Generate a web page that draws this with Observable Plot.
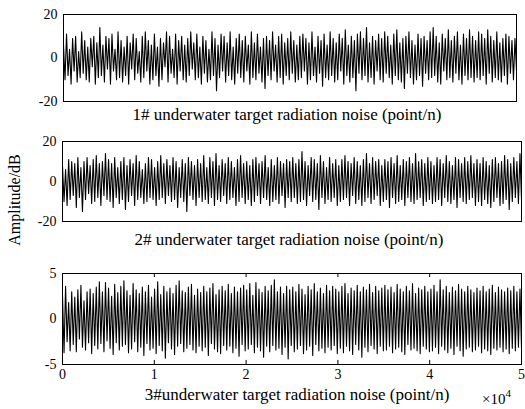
<!DOCTYPE html>
<html>
<head>
<meta charset="utf-8">
<script src="https://cdn.jsdelivr.net/npm/d3@7"></script>
<script src="https://cdn.jsdelivr.net/npm/@observablehq/plot@0.6"></script>
<style>
  html, body { margin: 0; padding: 0; background: #fff; }
  #wrap { position: relative; width: 525px; height: 409px; overflow: hidden; background: #fff;
          font-family: "Liberation Serif", "Times New Roman", serif; color: #000; }
  .panel { position: absolute; left: 0; }
  .panel svg text { font-family: "Liberation Serif", "Times New Roman", serif; }
  #ylab { position: absolute; left: 15px; top: 200px; transform: translate(-50%, -50%) rotate(-90deg);
          font-size: 16px; white-space: nowrap; }
  #exp { position: absolute; left: 482px; top: 392px; font-size: 15px; line-height: 15px; white-space: nowrap; }
  #exp .e { position: relative; top: -7px; font-size: 11px; }
</style>
</head>
<body>
<div id="wrap">
  <div id="p1" class="panel" style="top:0px"></div>
  <div id="p2" class="panel" style="top:127px"></div>
  <div id="p3" class="panel" style="top:255px"></div>
  <div id="ylab">Amplitude/dB</div>
  <div id="exp">×10<span class="e">4</span></div>
</div>
<script>
// Titles
const titles = [
  "1# underwater target radiation noise (point/n)",
  "2# underwater target radiation noise (point/n)",
  "3#underwater target radiation noise (point/n)"
];
// Axis ticks
const yTicks12 = [-20, 0, 20];
const yTicks3 = [-5, 0, 5];
const xTicks = [0, 10000, 20000, 30000, 40000, 50000];
const xTickLabels = ["0", "1", "2", "3", "4", "5"];
const xMax = 50000;

// Signal 1 (downsampled)
const s1 = [
  6,-10,11,-8,4,-12,9,-6,10,-11,3,-9,12,-7,8,-10,5,-11,9,-4,10,-12,7,-9,14,-8,6,-11,10,-5,
  9,-12,11,-6,4,-10,12,-9,8,-11,5,-8,10,-12,7,-5,11,-10,9,-7,3,-11,10,-9,12,-6,8,-12,6,-10,
  11,-8,5,-13,9,-10,7,-4,12,-11,10,-7,4,-9,11,-12,8,-6,10,-10,6,-11,9,-8,12,-5,7,-10,11,-9,
  5,-12,10,-7,8,-11,4,-10,12,-8,9,-15,6,-9,11,-6,10,-11,7,-8,12,-10,5,-12,9,-7,11,-9,8,-11,
  10,-6,6,-12,12,-9,7,-10,11,-7,5,-11,9,-14,10,-8,8,-10,12,-6,6,-11,10,-9,11,-12,7,-8,9,-10,
  12,-7,8,-11,6,-10,10,-9,11,-6,9,-12,7,-10,12,-8,5,-11,10,-7,8,-13,11,-9,6,-10,12,-8,9,-11,
  7,-10,11,-6,9,-12,13,-8,6,-11,10,-9,8,-15,11,-7,12,-10,9,-8,14,-11,7,-9,10,-12,8,-6,11,-10,
  9,-11,12,-7,10,-9,6,-12,11,-8,13,-10,7,-11,9,-14,10,-7,12,-9,8,-12,6,-10,11,-8,9,-13,10,-7,
  8,-10,12,-9,14,-8,10,-11,7,-12,11,-6,9,-10,13,-9,8,-11,10,-7,12,-10,6,-12,11,-8,9,-10,13,-9,
  10,-11,8,-9,12,-10,11,-8,9,-12,13,-7,10,-11,8,-9,12,-10,7,-11,9,-8,11,-12,10,-7,8,-10,9,-6
];
// Signal 2
const s2 = [
  8,-10,6,-12,11,-9,10,-7,9,-13,12,-8,7,-15,10,-9,12,-6,8,-11,11,-10,13,-8,9,-12,10,-7,14,-9,
  11,-10,9,-13,12,-8,7,-11,10,-9,12,-14,8,-10,11,-7,9,-12,13,-9,10,-8,6,-11,9,-10,12,-8,11,-9,
  7,-12,10,-9,13,-8,9,-11,11,-7,8,-10,12,-9,10,-13,7,-8,11,-10,9,-15,12,-7,10,-9,8,-12,11,-8,
  9,-10,13,-9,7,-11,12,-8,10,-12,14,-9,8,-10,11,-7,9,-11,12,-9,10,-8,7,-12,11,-10,13,-8,9,-11,
  10,-9,8,-12,11,-10,12,-7,9,-11,10,-8,13,-9,7,-12,11,-10,8,-9,12,-11,10,-7,9,-13,11,-8,10,-10,
  12,-8,9,-11,11,-10,15,-9,10,-12,8,-7,12,-10,11,-9,9,-14,13,-8,10,-11,7,-9,12,-10,9,-8,11,-12,
  8,-10,11,-9,13,-8,10,-12,9,-7,12,-11,10,-9,8,-12,11,-10,14,-8,9,-11,12,-9,10,-7,11,-12,8,-10,
  11,-9,10,-13,12,-8,9,-11,13,-10,8,-9,11,-12,10,-8,12,-10,9,-11,14,-9,10,-8,11,-12,9,-10,12,-9,
  10,-11,8,-10,12,-9,11,-12,9,-8,13,-10,10,-11,8,-9,12,-13,11,-8,9,-10,12,-11,10,-9,13,-8,9,-12,
  11,-10,9,-12,12,-9,10,-11,8,-13,11,-10,12,-8,9,-12,10,-11,13,-9,11,-14,9,-10,12,-8,10,-11,14,-9
];
// Signal 3
const s3 = [
  2.6,-3.7,3.6,-2.5,1.8,-3.5,3.0,-2.8,2.4,-3.6,3.2,-2.2,3.7,-3.1,2.0,-3.4,3.0,-2.6,3.3,-3.8,2.8,-2.9,3.5,-3.3,4.1,-2.7,3.0,-3.6,4.0,-2.4,
  3.4,-3.2,2.5,-3.9,3.8,-2.6,2.9,-3.4,3.6,-3.0,4.2,-2.8,3.1,-3.7,2.6,-3.3,3.9,-2.5,3.2,-3.6,2.8,-3.1,3.5,-4.0,3.0,-2.7,3.7,-3.4,2.4,-3.2,
  3.3,-3.8,4.1,-2.9,2.7,-3.5,3.6,-4.3,3.0,-2.6,3.4,-3.3,2.8,-3.9,3.7,-3.0,4.2,-2.7,3.1,-3.6,2.9,-3.2,3.5,-2.8,3.8,-3.4,2.6,-3.7,3.3,-3.0,
  2.9,-3.5,3.6,-3.1,3.0,-4.0,3.4,-2.7,3.9,-3.3,2.7,-3.6,3.2,-3.8,3.6,-2.9,3.1,-3.4,3.8,-3.0,2.8,-3.7,3.5,-3.2,3.0,-4.1,3.4,-2.8,3.7,-3.5,
  3.2,-3.3,3.9,-2.8,2.6,-3.7,4.0,-3.1,3.3,-3.5,2.9,-4.2,3.6,-3.0,3.1,-3.6,3.7,-2.9,4.3,-3.4,3.0,-3.2,3.5,-3.9,2.8,-3.1,3.6,-4.4,3.2,-2.9,
  3.5,-3.6,3.0,-3.3,3.8,-2.9,3.3,-3.8,2.7,-3.4,3.6,-3.0,3.2,-4.0,3.9,-2.8,3.0,-3.5,3.4,-3.2,2.8,-3.7,3.7,-3.1,3.1,-3.4,3.6,-2.9,3.3,-3.8,
  3.0,-3.2,3.6,-3.7,3.9,-3.0,2.8,-3.5,3.4,-3.9,3.1,-2.8,3.7,-3.4,3.0,-4.2,3.5,-3.1,3.2,-3.6,3.8,-2.9,2.9,-3.3,3.6,-3.8,3.1,-3.0,3.4,-3.5,
  3.7,-3.4,3.2,-3.0,3.5,-3.7,2.9,-3.3,3.8,-3.1,3.3,-3.6,3.0,-3.9,3.6,-2.8,3.1,-3.4,3.9,-3.2,2.8,-3.5,3.4,-3.8,3.2,-3.0,3.6,-3.3,3.0,-3.6,
  3.3,-3.5,3.7,-3.1,3.0,-3.8,4.3,-3.0,3.2,-3.4,3.6,-3.7,2.9,-3.2,3.5,-3.9,3.1,-3.0,3.8,-3.5,3.3,-4.1,3.0,-3.3,3.6,-3.1,3.2,-3.6,2.9,-3.4,
  3.4,-3.0,3.1,-3.7,3.6,-3.3,3.0,-3.5,3.3,-3.9,3.7,-3.2,2.9,-3.4,3.5,-3.1,3.2,-3.6,3.0,-3.3,3.4,-3.8,3.1,-3.2,3.6,-3.5,3.0,-3.1,3.3,-3.2
];

const FONT = '"Liberation Serif", "Times New Roman", serif';

function panel(el, o) {
  const data = o.values.map((v, i) => ({ x: i * xMax / (o.values.length - 1), y: v }));
  const [y0, y1] = o.yDomain;
  const tl = (y1 - y0) * o.tickFrac;
  const marks = [
    Plot.line(data, { x: "x", y: "y", stroke: "#000", strokeWidth: 1.1 }),
    Plot.axisY(o.yTicks, { tickSize: 0, tickPadding: 6, label: null, fontSize: 14, fontFamily: FONT,
      tickFormat: (d) => String(d) }),
    Plot.text([o.title], { frameAnchor: "bottom", dy: o.titleDy, dx: o.titleDx, fontSize: 17, fontFamily: FONT, fill: "#000" })
  ];
  if (o.showX) {
    const inner = xTicks.slice(1, -1);
    marks.push(
      Plot.ruleX(inner, { y1: y0, y2: y0 + tl, stroke: "#000" }),
      Plot.ruleX(inner, { y1: y1, y2: y1 - tl, stroke: "#000" }),
      Plot.axisX(xTicks, { tickSize: 0, tickPadding: 5, label: null, fontSize: 14, fontFamily: FONT,
        tickFormat: (d) => xTickLabels[xTicks.indexOf(d)] })
    );
  }
  marks.push(Plot.frame({ stroke: "#000", strokeWidth: 1 }));
  const chart = Plot.plot({
    width: 525,
    height: o.height,
    marginTop: o.marginTop,
    marginBottom: o.marginBottom,
    marginLeft: o.marginLeft,
    marginRight: o.marginRight,
    x: { domain: [0, xMax], axis: null },
    y: { domain: o.yDomain, axis: null },
    style: { fontFamily: FONT, fontSize: "14px", color: "#000", background: "transparent", overflow: "visible" },
    marks
  });
  el.appendChild(chart);
}

panel(document.getElementById("p1"), {
  values: s1, yDomain: [-20, 20], yTicks: yTicks12, title: titles[0],
  height: 127, marginTop: 14, marginBottom: 26, marginLeft: 63, marginRight: 9,
  titleDy: 18, titleDx: -3, showX: false, tickFrac: 0.045
});
panel(document.getElementById("p2"), {
  values: s2, yDomain: [-20, 20], yTicks: yTicks12, title: titles[1],
  height: 128, marginTop: 14, marginBottom: 34, marginLeft: 62, marginRight: 4,
  titleDy: 23, titleDx: -3, showX: false, tickFrac: 0.045
});
panel(document.getElementById("p3"), {
  values: s3, yDomain: [-5, 5], yTicks: yTicks3, title: titles[2],
  height: 154, marginTop: 18, marginBottom: 45, marginLeft: 62, marginRight: 4,
  titleDy: 35, titleDx: 5, showX: true, tickFrac: 0.045
});
</script>
</body>
</html>
